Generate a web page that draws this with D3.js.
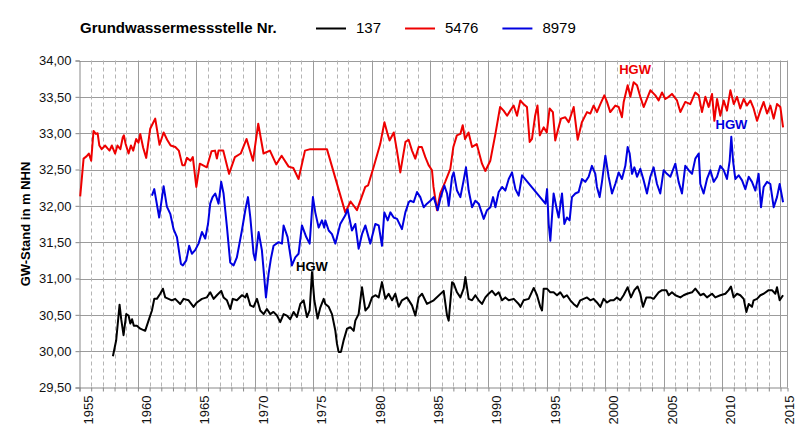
<!DOCTYPE html>
<html>
<head>
<meta charset="utf-8">
<title>Grundwassermessstellen</title>
<script src="https://cdn.jsdelivr.net/npm/d3@7"></script>
<style>
	body { margin: 0; background: #fff; }
	svg { display: block; font-family: "Liberation Sans", Arial, sans-serif; }
</style>
</head>
<body>
<svg id="chart" width="800" height="438"></svg>
<script>

// tick values
var levelTicks = [29.5, 30, 30.5, 31, 31.5, 32, 32.5, 33, 33.5, 34];
var yearTicks = d3.range(1955, 2016);

var stationNames = ["137", "5476", "8979"];

// [year, GW-Stand m NHN]
var gw137 = [
	[1957.86,29.93],[1958.14,30.15],[1958.43,30.64],[1958.57,30.44],[1958.77,30.22],[1959.0,30.51],
	[1959.2,30.49],[1959.35,30.38],[1959.5,30.44],[1959.65,30.35],[1959.91,30.35],[1960.2,30.31],
	[1960.62,30.28],[1960.91,30.42],[1961.2,30.56],[1961.4,30.72],[1961.62,30.72],[1961.91,30.79],
	[1962.14,30.86],[1962.34,30.74],[1962.62,30.72],[1962.9,30.7],[1963.19,30.72],[1963.62,30.65],
	[1963.91,30.72],[1964.34,30.7],[1964.76,30.61],[1965.05,30.67],[1965.48,30.72],[1965.9,30.74],
	[1966.19,30.81],[1966.48,30.72],[1966.76,30.77],[1967.13,30.83],[1967.33,30.74],[1967.62,30.7],
	[1967.9,30.58],[1968.13,30.72],[1968.47,30.7],[1968.9,30.77],[1969.19,30.74],[1969.33,30.79],
	[1969.62,30.63],[1969.9,30.61],[1970.19,30.72],[1970.47,30.56],[1970.76,30.51],[1971.04,30.58],
	[1971.33,30.51],[1971.6,30.54],[1971.9,30.49],[1972.18,30.4],[1972.47,30.51],[1972.75,30.49],
	[1973.04,30.44],[1973.33,30.54],[1973.61,30.47],[1973.9,30.65],[1974.18,30.7],[1974.47,30.47],
	[1974.7,30.56],[1974.9,31.09],[1975.1,30.7],[1975.38,30.45],[1975.61,30.6],[1975.9,30.72],
	[1976.04,30.65],[1976.33,30.61],[1976.61,30.51],[1976.9,30.28],[1977.04,30.1],[1977.18,29.99],
	[1977.38,29.99],[1977.61,30.15],[1977.9,30.31],[1978.18,30.33],[1978.47,30.28],[1978.61,30.42],
	[1978.89,30.51],[1979.18,30.88],[1979.47,30.56],[1979.75,30.61],[1980.04,30.74],[1980.32,30.77],
	[1980.61,30.74],[1980.89,30.95],[1981.18,30.72],[1981.46,30.79],[1981.75,30.7],[1982.03,30.79],
	[1982.32,30.61],[1982.6,30.7],[1983.03,30.74],[1983.46,30.63],[1983.75,30.49],[1984.03,30.74],
	[1984.32,30.79],[1984.74,30.65],[1985.32,30.7],[1986.17,30.83],[1986.46,30.49],[1986.6,30.42],
	[1986.89,30.95],[1987.03,30.93],[1987.31,30.81],[1987.6,30.74],[1987.88,30.86],[1988.03,31.02],
	[1988.31,30.72],[1988.6,30.7],[1988.88,30.77],[1989.17,30.7],[1989.45,30.65],[1989.74,30.74],
	[1990.02,30.79],[1990.31,30.83],[1990.6,30.77],[1990.88,30.81],[1991.17,30.7],[1991.45,30.74],
	[1991.74,30.7],[1992.17,30.72],[1992.59,30.65],[1992.74,30.61],[1993.02,30.7],[1993.45,30.72],
	[1993.88,30.87],[1994.16,30.77],[1994.44,30.61],[1994.59,30.56],[1994.73,30.86],[1995.01,30.86],
	[1995.3,30.81],[1995.58,30.81],[1995.87,30.77],[1996.15,30.81],[1996.44,30.74],[1996.72,30.77],
	[1997.01,30.7],[1997.29,30.65],[1997.58,30.61],[1997.86,30.7],[1998.15,30.72],[1998.44,30.74],
	[1998.72,30.7],[1999.0,30.72],[1999.29,30.67],[1999.58,30.61],[1999.86,30.72],[2000.15,30.67],
	[2000.43,30.7],[2000.72,30.7],[2001.0,30.74],[2001.29,30.7],[2001.57,30.77],[2001.92,30.88],
	[2002.2,30.74],[2002.49,30.84],[2002.77,30.89],[2003.0,30.79],[2003.23,30.61],[2003.52,30.74],
	[2003.86,30.74],[2004.14,30.72],[2004.57,30.81],[2004.86,30.84],[2005.23,30.84],[2005.43,30.77],
	[2005.71,30.81],[2006.0,30.77],[2006.43,30.74],[2006.71,30.77],[2007.0,30.79],[2007.43,30.81],
	[2007.71,30.86],[2008.14,30.77],[2008.42,30.79],[2008.71,30.74],[2009.14,30.79],[2009.42,30.74],
	[2009.85,30.77],[2010.28,30.79],[2010.56,30.84],[2010.76,30.89],[2010.99,30.74],[2011.28,30.79],
	[2011.56,30.77],[2011.85,30.72],[2012.08,30.54],[2012.28,30.65],[2012.56,30.61],[2012.7,30.7],
	[2012.99,30.72],[2013.28,30.77],[2013.56,30.79],[2013.99,30.84],[2014.27,30.84],[2014.56,30.79],
	[2014.7,30.88],[2014.93,30.7],[2015.22,30.77]
];

var gw5476 = [
	[1955.06,32.13],[1955.35,32.65],[1955.6,32.68],[1955.8,32.72],[1956.0,32.62],[1956.2,33.03],
	[1956.4,32.99],[1956.55,33.0],[1956.7,32.83],[1956.9,32.78],[1957.2,32.83],[1957.4,32.79],
	[1957.57,32.76],[1957.77,32.83],[1958.05,32.72],[1958.25,32.83],[1958.5,32.78],[1958.7,32.94],
	[1958.8,32.97],[1958.95,32.85],[1959.2,32.72],[1959.4,32.83],[1959.6,32.76],[1959.85,32.92],
	[1960.05,32.87],[1960.2,32.99],[1960.45,32.8],[1960.71,32.66],[1961.05,33.06],[1961.48,33.2],
	[1961.85,32.84],[1962.2,33.01],[1962.5,32.91],[1962.8,32.83],[1963.2,32.81],[1963.5,32.76],
	[1963.8,32.56],[1964.0,32.56],[1964.2,32.66],[1964.5,32.62],[1964.7,32.67],[1965.0,32.26],
	[1965.3,32.58],[1965.9,32.53],[1966.3,32.75],[1966.6,32.76],[1966.76,32.65],[1966.9,32.76],
	[1967.3,32.76],[1967.8,32.44],[1968.3,32.67],[1968.8,32.72],[1969.3,32.92],[1969.85,32.62],
	[1970.3,33.13],[1970.75,32.72],[1971.3,32.76],[1971.84,32.57],[1972.3,32.69],[1972.9,32.54],
	[1973.3,32.52],[1973.75,32.37],[1974.3,32.76],[1974.75,32.78],[1976.18,32.78],[1977.75,31.91],
	[1978.2,32.06],[1978.75,31.94],[1979.46,32.26],[1979.7,32.28],[1980.17,32.53],[1980.74,32.85],
	[1981.1,33.15],[1981.37,32.99],[1981.54,32.9],[1981.9,33.01],[1982.17,32.76],[1982.46,32.46],
	[1982.9,32.88],[1983.17,32.91],[1983.46,32.76],[1983.74,32.65],[1984.03,32.81],[1984.3,32.81],
	[1984.6,32.67],[1984.88,32.56],[1985.17,32.49],[1985.3,32.26],[1985.6,31.94],[1985.88,32.17],
	[1986.3,32.33],[1986.74,32.51],[1987.0,32.81],[1987.3,32.97],[1987.6,32.99],[1987.8,33.11],
	[1988.0,32.92],[1988.3,33.01],[1988.6,32.81],[1989.0,32.85],[1989.45,32.58],[1989.74,32.48],
	[1990.16,32.62],[1990.6,32.99],[1991.0,33.36],[1991.3,33.31],[1991.6,33.24],[1991.87,33.31],
	[1992.16,33.38],[1992.45,33.24],[1992.73,33.45],[1993.0,33.4],[1993.3,33.36],[1993.53,32.88],
	[1993.73,32.92],[1994.0,33.24],[1994.2,33.38],[1994.4,32.97],[1994.73,33.08],[1995.0,33.01],
	[1995.24,33.34],[1995.52,33.29],[1995.72,32.9],[1996.01,33.08],[1996.21,33.2],[1996.58,33.22],
	[1996.87,33.15],[1997.3,33.36],[1997.64,32.91],[1998.0,33.15],[1998.44,33.29],[1998.72,33.27],
	[1999.0,33.38],[1999.29,33.29],[1999.58,33.4],[1999.92,33.52],[2000.15,33.43],[2000.43,33.29],
	[2000.86,33.38],[2001.15,33.36],[2001.43,33.22],[2001.58,33.43],[2001.92,33.66],[2002.15,33.5],
	[2002.43,33.7],[2002.72,33.66],[2003.0,33.5],[2003.29,33.36],[2003.52,33.45],[2003.86,33.59],
	[2004.29,33.52],[2004.57,33.45],[2004.86,33.56],[2005.14,33.47],[2005.43,33.5],[2005.71,33.54],
	[2006.14,33.45],[2006.43,33.29],[2006.85,33.43],[2007.28,33.4],[2007.71,33.56],[2008.0,33.52],
	[2008.28,33.29],[2008.57,33.5],[2008.85,33.36],[2009.14,33.54],[2009.34,33.17],[2009.57,33.47],
	[2009.85,33.24],[2010.14,33.45],[2010.42,33.31],[2010.71,33.59],[2011.0,33.4],[2011.28,33.5],
	[2011.56,33.34],[2011.85,33.47],[2012.13,33.38],[2012.42,33.45],[2012.7,33.34],[2012.99,33.17],
	[2013.28,33.31],[2013.56,33.43],[2013.85,33.27],[2014.13,33.38],[2014.42,33.2],[2014.7,33.4],
	[2014.99,33.36],[2015.22,33.08]
];

var gw8979 = [
	[1961.2,32.14],[1961.4,32.23],[1961.82,31.84],[1962.2,32.27],[1962.48,31.99],[1962.77,31.89],
	[1963.05,31.68],[1963.34,31.57],[1963.68,31.2],[1963.85,31.18],[1964.14,31.25],[1964.39,31.45],
	[1964.62,31.34],[1964.9,31.39],[1965.19,31.48],[1965.48,31.64],[1965.76,31.55],[1966.0,31.75],
	[1966.19,32.03],[1966.39,32.12],[1966.62,32.17],[1966.9,32.03],[1967.13,32.33],[1967.33,32.17],
	[1967.62,31.71],[1967.9,31.22],[1968.19,31.18],[1968.47,31.29],[1968.9,31.66],[1969.2,31.95],
	[1969.42,32.12],[1969.62,31.84],[1969.9,31.34],[1970.04,31.25],[1970.33,31.64],[1970.61,31.39],
	[1970.96,30.74],[1971.18,31.06],[1971.38,31.27],[1971.61,31.45],[1972.04,31.5],[1972.33,31.48],
	[1972.47,31.73],[1972.81,31.57],[1973.18,31.18],[1973.47,31.29],[1973.75,31.34],[1974.04,31.73],
	[1974.41,31.57],[1974.7,31.48],[1974.98,32.12],[1975.18,31.91],[1975.47,31.7],[1975.75,31.8],
	[1975.95,31.7],[1976.04,31.8],[1976.33,31.66],[1976.61,31.61],[1976.9,31.48],[1977.32,31.75],
	[1977.75,31.87],[1977.95,31.95],[1978.32,31.66],[1978.61,31.75],[1978.89,31.41],[1979.18,31.61],
	[1979.47,31.73],[1979.89,31.48],[1980.32,31.75],[1980.61,31.73],[1980.89,31.45],[1981.09,31.91],
	[1981.38,31.8],[1981.61,31.91],[1981.89,31.84],[1982.18,31.82],[1982.6,31.68],[1982.89,31.91],
	[1983.18,32.05],[1983.32,32.07],[1983.6,32.05],[1983.89,32.19],[1984.17,32.12],[1984.46,31.98],
	[1984.74,32.03],[1985.03,32.07],[1985.32,32.12],[1985.66,31.94],[1985.89,32.1],[1986.23,32.28],
	[1986.46,32.17],[1986.6,32.0],[1986.89,32.4],[1987.03,32.46],[1987.31,32.21],[1987.6,32.12],
	[1987.88,32.35],[1988.08,32.53],[1988.31,32.21],[1988.6,31.98],[1988.88,32.07],[1989.17,32.03],
	[1989.6,31.82],[1989.88,31.94],[1990.17,31.98],[1990.4,32.12],[1990.6,31.98],[1990.88,32.19],
	[1991.17,32.26],[1991.45,32.21],[1991.74,32.37],[1992.02,32.46],[1992.31,32.23],[1992.59,32.14],
	[1992.88,32.42],[1994.88,32.03],[1995.02,32.23],[1995.16,31.75],[1995.3,31.52],[1995.58,32.17],
	[1995.87,31.94],[1996.01,31.84],[1996.3,32.17],[1996.5,31.75],[1996.72,31.84],[1996.95,31.8],
	[1997.15,32.12],[1997.44,32.17],[1997.72,32.19],[1998.01,32.37],[1998.29,32.33],[1998.58,32.4],
	[1998.86,32.55],[1999.15,32.44],[1999.29,32.26],[1999.52,32.12],[1999.72,32.33],[2000.01,32.69],
	[2000.29,32.4],[2000.58,32.17],[2000.86,32.3],[2001.15,32.46],[2001.43,32.37],[2001.72,32.55],
	[2001.92,32.81],[2002.09,32.72],[2002.29,32.44],[2002.49,32.53],[2002.72,32.4],[2003.0,32.51],
	[2003.29,32.35],[2003.57,32.17],[2003.86,32.4],[2004.14,32.53],[2004.43,32.3],[2004.71,32.17],
	[2005.0,32.49],[2005.28,32.44],[2005.57,32.4],[2006.0,32.58],[2006.28,32.33],[2006.57,32.17],
	[2006.85,32.55],[2007.14,32.49],[2007.43,32.44],[2007.71,32.65],[2008.0,32.72],[2008.14,32.3],
	[2008.42,32.17],[2008.71,32.37],[2009.0,32.49],[2009.28,32.33],[2009.57,32.4],[2009.85,32.55],
	[2010.14,32.49],[2010.42,32.37],[2010.65,32.62],[2010.79,32.95],[2010.94,32.62],[2011.13,32.37],
	[2011.42,32.42],[2011.71,32.35],[2011.99,32.23],[2012.28,32.4],[2012.56,32.33],[2012.85,32.21],
	[2013.13,32.44],[2013.33,31.98],[2013.56,32.26],[2013.85,32.33],[2014.13,32.3],[2014.42,31.98],
	[2014.7,32.12],[2014.93,32.3],[2015.22,32.05]
];

// highest measured level (HGW) per station
var hgwYears = [1974.9, 2002.55, 2010.8];
var hgwLevels = [31.09, 33.70, 32.95];

var lineColors = ["#000000", "#ee0000", "#0000e0"];

var fmtLevel = function(v) {
	return d3.format(".2f")(v).replace(".", ",");
};

var svg = d3.select("#chart");
var plot = { left: 79.5, right: 787.5, top: 60.5, bottom: 387.5 };

var x = d3.scaleLinear().domain([1955, 2015.6]).range([plot.left, plot.right]);
var y = d3.scaleLinear().domain([29.5, 34]).range([plot.bottom, plot.top]);

// grid
var grid = svg.append("g").attr("class", "grid");

grid.selectAll("line.h")
	.data(levelTicks.slice(1))
	.enter().append("line")
	.attr("class", "h")
	.attr("x1", plot.left).attr("x2", plot.right)
	.attr("y1", function(d) { return Math.round(y(d)) + 0.5; })
	.attr("y2", function(d) { return Math.round(y(d)) + 0.5; })
	.attr("stroke", "#9c9c9c");

grid.selectAll("line.v")
	.data(yearTicks.slice(1))
	.enter().append("line")
	.attr("class", "v")
	.attr("x1", function(d) { return Math.round(x(d)) + 0.5; })
	.attr("x2", function(d) { return Math.round(x(d)) + 0.5; })
	.attr("y1", plot.top).attr("y2", plot.bottom)
	.attr("stroke", function(d) { return d % 5 === 0 ? "#9c9c9c" : "#b4b4b4"; })
	.attr("stroke-dasharray", function(d) { return d % 5 === 0 ? null : "4,3"; });

grid.append("line")
	.attr("x1", plot.right).attr("x2", plot.right)
	.attr("y1", plot.top).attr("y2", plot.bottom)
	.attr("stroke", "#9c9c9c");

// axes
var xAxis = d3.axisBottom(x)
	.tickValues(yearTicks)
	.tickSize(4)
	.tickFormat(function(d) { return d % 5 === 0 ? d : ""; });

var gx = svg.append("g")
	.attr("transform", "translate(0," + plot.bottom + ")")
	.call(xAxis);

gx.select(".domain").attr("stroke", "#888");
gx.selectAll(".tick line").attr("stroke", "#888");
gx.selectAll(".tick text")
	.attr("font-size", 13)
	.attr("fill", "#111")
	.attr("text-anchor", "end")
	.attr("transform", "translate(8,8) rotate(-90)")
	.attr("x", 0).attr("y", 0).attr("dy", "0.35em");

var yAxis = d3.axisLeft(y)
	.tickValues(levelTicks)
	.tickSize(4)
	.tickPadding(4)
	.tickFormat(fmtLevel);

var gy = svg.append("g")
	.attr("transform", "translate(" + plot.left + ",0)")
	.call(yAxis);

gy.select(".domain").attr("stroke", "#888");
gy.selectAll(".tick line").attr("stroke", "#888");
gy.selectAll(".tick text")
	.attr("font-size", 13)
	.attr("fill", "#111");

svg.append("text")
	.attr("transform", "translate(25,224) rotate(-90)")
	.attr("text-anchor", "middle")
	.attr("dy", "0.35em")
	.attr("font-size", 13)
	.attr("font-weight", "bold")
	.text("GW-Stand in m NHN");

// series
var line = d3.line()
	.x(function(d) { return x(d[0]); })
	.y(function(d) { return y(d[1]); });

var series = [gw5476, gw8979, gw137];
var seriesColor = [lineColors[1], lineColors[2], lineColors[0]];

svg.append("g").attr("class", "series")
	.selectAll("path")
	.data(series)
	.enter().append("path")
	.attr("d", line)
	.attr("fill", "none")
	.attr("stroke", function(d, i) { return seriesColor[i]; })
	.attr("stroke-width", 2)
	.attr("stroke-linejoin", "round");

// HGW labels
svg.append("g").attr("class", "hgw")
	.selectAll("text")
	.data(hgwYears)
	.enter().append("text")
	.attr("x", function(d) { return x(d); })
	.attr("y", function(d, i) { return y(hgwLevels[i]) - (i === 0 ? 1 : 8); })
	.attr("text-anchor", "middle")
	.attr("font-size", 13)
	.attr("font-weight", "bold")
	.attr("fill", function(d, i) { return lineColors[i]; })
	.text("HGW");

// legend: line, gap, number, gap - next entry follows the text width
var legend = svg.append("g").attr("class", "legend");

legend.append("text")
	.attr("x", 80).attr("y", 33)
	.attr("font-size", 15)
	.attr("font-weight", "bold")
	.text("Grundwassermessstelle Nr.");

var legendX = 316;
stationNames.forEach(function(name, i) {
	var item = legend.append("g")
		.attr("class", "item")
		.attr("transform", "translate(" + legendX + ",0)");

	item.append("line")
		.attr("x1", 0).attr("x2", 30)
		.attr("y1", 28.5).attr("y2", 28.5)
		.attr("stroke", lineColors[i])
		.attr("stroke-width", 2);

	var label = item.append("text")
		.attr("x", 40).attr("y", 33)
		.attr("font-size", 15)
		.text(name);

	legendX += 40 + label.node().getComputedTextLength() + 24;
});

</script>
</body>
</html>
